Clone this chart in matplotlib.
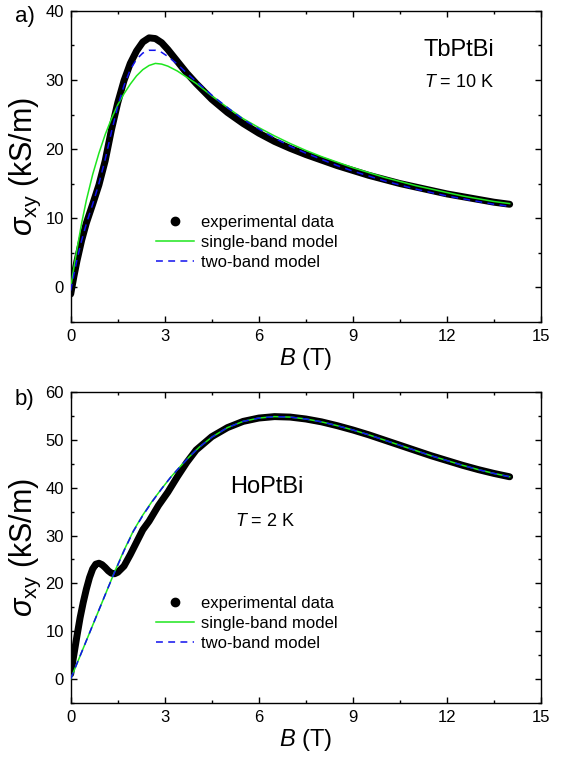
import numpy as np
import matplotlib
matplotlib.use("Agg")
import matplotlib.pyplot as plt
from matplotlib.lines import Line2D

plt.rcParams['font.family'] = ['Liberation Sans', 'DejaVu Sans']
plt.rcParams['mathtext.fontset'] = 'custom'
plt.rcParams['mathtext.rm'] = 'Liberation Sans'
plt.rcParams['mathtext.it'] = 'Liberation Sans:italic'

# ---- panel a) TbPtBi, T = 10 K ----
B_a = [0, 0.1, 0.2, 0.35, 0.5, 0.7, 0.9, 1.1, 1.3, 1.5, 1.7, 1.9, 2.1, 2.3, 2.5, 2.7,
       2.9, 3.1, 3.4, 3.7, 4.0, 4.5, 5.0, 5.5, 6.0, 6.5, 7.0, 7.5, 8.0, 8.5, 9.0, 9.5,
       10, 10.5, 11, 11.5, 12, 12.5, 13, 13.5, 14]
exp_a = [-1.0, 1.5, 3.8, 6.8, 9.3, 12.0, 14.8, 18.3, 22.8, 26.7, 29.9, 32.4, 34.2, 35.5,
         36.1, 36.0, 35.4, 34.4, 32.7, 31.0, 29.5, 27.2, 25.3, 23.7, 22.3, 21.1, 20.1, 19.2,
         18.4, 17.6, 16.9, 16.2, 15.6, 15.0, 14.5, 14.0, 13.5, 13.1, 12.7, 12.3, 12.0]
single_a = [0.0, 2.8, 5.5, 9.3, 12.6, 16.3, 19.4, 22.1, 24.4, 26.4, 28.0, 29.4, 30.6, 31.5,
            32.1, 32.4, 32.3, 32.0, 31.3, 30.4, 29.5, 27.7, 26.0, 24.4, 23.1, 21.9, 20.8, 19.8,
            18.9, 18.1, 17.3, 16.6, 15.9, 15.3, 14.7, 14.2, 13.7, 13.2, 12.8, 12.4, 12.1]
two_a = [-0.5, 1.8, 4.0, 6.8, 9.2, 12.0, 15.0, 18.5, 22.5, 26.2, 29.2, 31.5, 33.0, 33.9,
         34.3, 34.3, 34.0, 33.4, 32.3, 31.0, 29.8, 27.8, 26.0, 24.3, 22.9, 21.6, 20.4, 19.4,
         18.5, 17.6, 16.8, 16.1, 15.4, 14.8, 14.2, 13.7, 13.2, 12.8, 12.4, 12.0, 11.7]

# ---- panel b) HoPtBi, T = 2 K ----
B_b_exp = [0, 0.1, 0.2, 0.3, 0.4, 0.5, 0.6, 0.7, 0.8, 0.9, 1.0, 1.1, 1.2, 1.3, 1.4, 1.5,
           1.7, 1.9, 2.1, 2.3, 2.5, 2.8, 3.1, 3.4, 3.7, 4.0, 4.5, 5.0, 5.5, 6.0, 6.5, 7.0,
           7.5, 8.0, 8.5, 9.0, 9.5, 10, 10.5, 11, 11.5, 12, 12.5, 13, 13.5, 14]
exp_b = [1.0, 5.0, 9.0, 12.8, 16.0, 18.8, 21.2, 23.0, 24.0, 24.2, 23.9, 23.3, 22.6, 22.1,
         22.0, 22.3, 23.6, 26.0, 28.6, 31.2, 33.0, 36.3, 39.1, 42.3, 45.3, 47.9, 50.7, 52.6,
         53.9, 54.6, 54.9, 54.8, 54.4, 53.8, 53.0, 52.1, 51.1, 50.0, 48.9, 47.8, 46.7, 45.7,
         44.7, 43.8, 43.0, 42.3]
B_b = [0, 0.2, 0.4, 0.6, 0.8, 1.0, 1.2, 1.4, 1.7, 2.0, 2.3, 2.6, 2.9, 3.2, 3.5, 3.8, 4.1,
       4.5, 5.0, 5.5, 6.0, 6.5, 7.0, 7.5, 8.0, 8.5, 9.0, 9.5, 10, 10.5, 11, 11.5, 12, 12.5,
       13, 13.5, 14]
single_b = [0.0, 3.2, 6.4, 9.6, 12.8, 16.0, 19.2, 22.4, 26.9, 31.0, 34.3, 37.2, 39.8, 42.3,
            44.5, 46.6, 48.5, 50.6, 52.6, 53.9, 54.6, 54.9, 54.8, 54.4, 53.8, 53.0, 52.1,
            51.1, 50.0, 48.9, 47.8, 46.7, 45.7, 44.7, 43.8, 43.0, 42.3]
two_b = [0.0, 3.2, 6.4, 9.6, 12.8, 16.0, 19.2, 22.3, 26.8, 30.9, 34.2, 37.1, 39.8, 42.3,
         44.5, 46.6, 48.5, 50.6, 52.6, 53.9, 54.6, 54.9, 54.8, 54.4, 53.8, 53.0, 52.1,
         51.1, 50.0, 48.9, 47.8, 46.7, 45.7, 44.7, 43.8, 43.0, 42.3]

legend_labels = ['experimental data', 'single-band model', 'two-band model']
green = '#1ee61e'
blue = '#1010ee'

fig = plt.figure(figsize=(5.67, 7.59), dpi=100)
ax_a = fig.add_axes([0.1247, 0.5762, 0.8295, 0.4094])
ax_b = fig.add_axes([0.1247, 0.0742, 0.8295, 0.4090])

panels = [
    (ax_a, B_a, exp_a, B_a, single_a, two_a, (-5, 40), 'TbPtBi', '$T$ = 10 K', (0.826, 0.874), (0.826, 0.771)),
    (ax_b, B_b_exp, exp_b, B_b, single_b, two_b, (-5, 60), 'HoPtBi', '$T$ = 2 K', (0.418, 0.695), (0.413, 0.585)),
]

for ax, bx, ey, mx, sy, ty, ylim, name, temp, name_pos, temp_pos in panels:
    ax.plot(bx, ey, color='black', lw=5, solid_capstyle='round', solid_joinstyle='round', zorder=2)
    ax.plot(mx, sy, color=green, lw=1.1, zorder=3)
    ax.plot(mx, ty, color=blue, lw=1.1, ls=(0, (4.5, 3.5)), zorder=4)

    ax.set_xlim(0, 15)
    ax.set_ylim(*ylim)
    ax.set_xticks(np.arange(0, 16, 3))
    ax.set_xticks(np.arange(1.5, 15, 3), minor=True)
    ax.set_yticks(np.arange(0, ylim[1] + 1, 10))
    ax.set_yticks(np.arange(-5, ylim[1] + 1, 10), minor=True)
    ax.tick_params(which='both', direction='in', top=True, right=True, labelsize=12, width=1)
    ax.tick_params(which='major', length=4.5, pad=5)
    ax.tick_params(which='minor', length=2.5)
    for s in ax.spines.values():
        s.set_linewidth(1)

    ax.set_xlabel('$B$ (T)', fontsize=17, labelpad=2)
    ax.set_ylabel(r'$\sigma_{\rm xy}$ (kS/m)', fontsize=22)
    ax.yaxis.set_label_coords(-0.058, 0.5)

    ax.text(name_pos[0], name_pos[1], name, transform=ax.transAxes, fontsize=17,
            ha='center', va='center')
    ax.text(temp_pos[0], temp_pos[1], temp, transform=ax.transAxes, fontsize=13,
            ha='center', va='center')

    handles = [Line2D([], [], color='black', marker='o', ms=6, ls='none'),
               Line2D([], [], color=green, lw=1.1),
               Line2D([], [], color=blue, lw=1.1, ls=(0, (4.5, 3.5)))]
    ax.legend(handles, legend_labels, loc='upper left', bbox_to_anchor=(0.163, 0.37),
              frameon=False, fontsize=12, handlelength=2.3, handletextpad=0.4,
              labelspacing=0.3, borderpad=0)

fig.text(0.026, 0.978, 'a)', fontsize=16, ha='left', va='center')
fig.text(0.026, 0.473, 'b)', fontsize=16, ha='left', va='center')

fig.savefig('out.png', dpi=100)
